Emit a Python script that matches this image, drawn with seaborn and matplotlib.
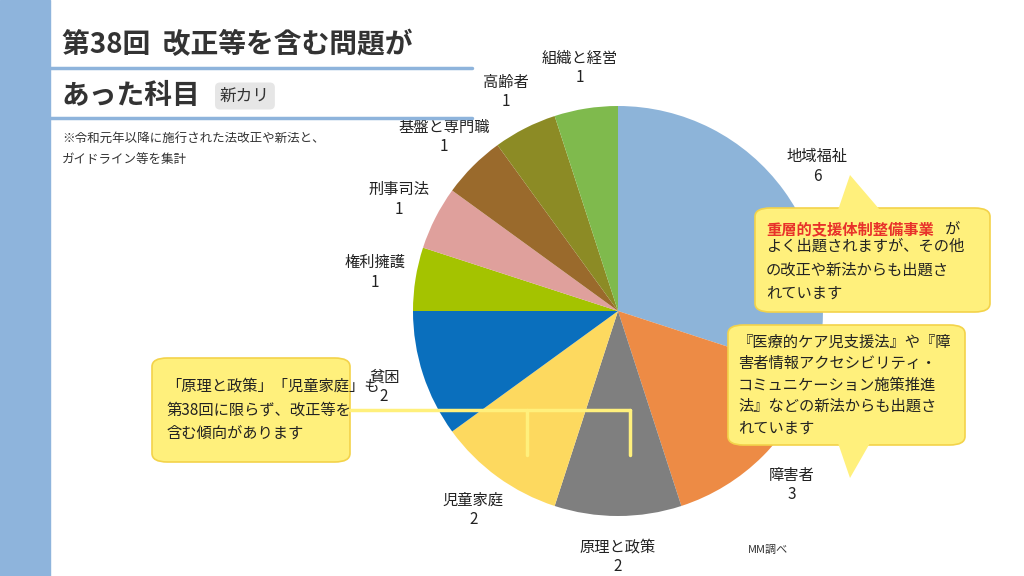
import matplotlib.pyplot as plt
import seaborn as sns
from matplotlib.patches import FancyBboxPatch, Polygon, Rectangle

sns.set_theme(style="white")
plt.rcParams['font.family'] = ['Noto Sans CJK JP', 'DejaVu Sans']

subjects = ['地域福祉', '障害者', '原理と政策', '児童家庭', '貧困',
            '権利擁護', '刑事司法', '基盤と専門職', '高齢者', '組織と経営']
counts = [6, 3, 2, 2, 2, 1, 1, 1, 1, 1]
colors = ['#8db4d9', '#ed8b45', '#7f7f7f', '#fdd95f', '#0a6fbd',
          '#a4c300', '#dfa09c', '#9a6a2c', '#8c8b25', '#7fba4d']

W, H = 1024, 576
fig = plt.figure(figsize=(10.24, 5.76), dpi=100)
fig.patch.set_facecolor('white')

def fx(x): return x / W
def fy(y): return 1 - y / H

# left stripe
fig.patches.append(Rectangle((0, 0), fx(50), 1, transform=fig.transFigure,
                             color='#8eb4dc', zorder=0))

# pie (matplotlib pads the pie axes to +-1.25 radius)
cx, cy, r = 618, 311, 205
R = r * 1.25
ax = fig.add_axes([fx(cx - R), fy(cy + R), 2 * R / W, 2 * R / H])
labels = [f'{s}\n{c}' for s, c in zip(subjects, counts)]
ax.pie(counts, colors=colors, startangle=90, counterclock=False,
       labels=labels, labeldistance=1.2,
       textprops=dict(fontsize=11, color='#222222', ha='center', va='center'),
       wedgeprops=dict(linewidth=0))
ax.set_aspect('equal')

# title
fig.text(fx(62), fy(45), '第38回  改正等を含む問題が', fontsize=20, weight='bold',
         color='#333333', va='center')
fig.lines.append(plt.Line2D([fx(50), fx(472)], [fy(68), fy(68)],
                            transform=fig.transFigure, color='#8eb4dc', lw=2.5))
fig.text(fx(62), fy(96), 'あった科目', fontsize=20, weight='bold',
         color='#333333', va='center')
fig.text(fx(220), fy(96), '新カリ', fontsize=12, color='#333333', va='center',
         bbox=dict(boxstyle='round,pad=0.3', fc='#e6e6e6', ec='none'))
fig.lines.append(plt.Line2D([fx(50), fx(472)], [fy(118), fy(118)],
                            transform=fig.transFigure, color='#8eb4dc', lw=2.5))
fig.text(fx(62), fy(138), '※令和元年以降に施行された法改正や新法と、', fontsize=9,
         color='#333333', va='center')
fig.text(fx(62), fy(160), 'ガイドライン等を集計', fontsize=9, color='#333333', va='center')
fig.text(fx(748), fy(550), 'MM調べ', fontsize=8, color='#333333', va='center')

box_fc, box_ec = '#fff07c', '#f3d34a'

def callout(x0, y0, x1, y1, tri):
    fig.patches.append(FancyBboxPatch((fx(x0), fy(y1)), fx(x1 - x0), (y1 - y0) / H,
                                      boxstyle='round,pad=0,rounding_size=0.015',
                                      transform=fig.transFigure, fc=box_fc, ec=box_ec,
                                      lw=1.2, zorder=3))
    if tri:
        fig.patches.append(Polygon([(fx(a), fy(b)) for a, b in tri], closed=True,
                                   transform=fig.transFigure, fc=box_fc, ec='none',
                                   zorder=4))

callout(755, 208, 990, 312, [(838, 210), (850, 175), (880, 210)])
fig.text(fx(766), fy(229), '重層的支援体制整備事業', fontsize=11, weight='bold',
         color='#e8312a', va='center', zorder=5)
fig.text(fx(944), fy(229), 'が', fontsize=11, color='#222222', va='center', zorder=5)
fig.text(fx(766), fy(270), 'よく出題されますが、その他\nの改正や新法からも出題さ\nれています',
         fontsize=11, color='#222222', va='center', linespacing=1.5, zorder=5)

callout(728, 325, 965, 445, [(838, 443), (850, 478), (870, 443)])
fig.text(fx(738), fy(385), '『医療的ケア児支援法』や『障\n害者情報アクセシビリティ・\nコミュニケーション施策推進\n法』などの新法からも出題さ\nれています',
         fontsize=11, color='#222222', va='center', linespacing=1.35, zorder=5)

callout(152, 358, 350, 462, None)
fig.text(fx(166), fy(410), '「原理と政策」「児童家庭」も\n第38回に限らず、改正等を\n含む傾向があります',
         fontsize=11, color='#222222', va='center', linespacing=1.5, zorder=5)
for xs, ys in [([350, 630], [410, 410]), ([630, 630], [410, 455]), ([527, 527], [410, 455])]:
    fig.lines.append(plt.Line2D([fx(v) for v in xs], [fy(v) for v in ys],
                                transform=fig.transFigure, color=box_fc, lw=2.5, zorder=5))

fig.savefig('out.png', dpi=100)
